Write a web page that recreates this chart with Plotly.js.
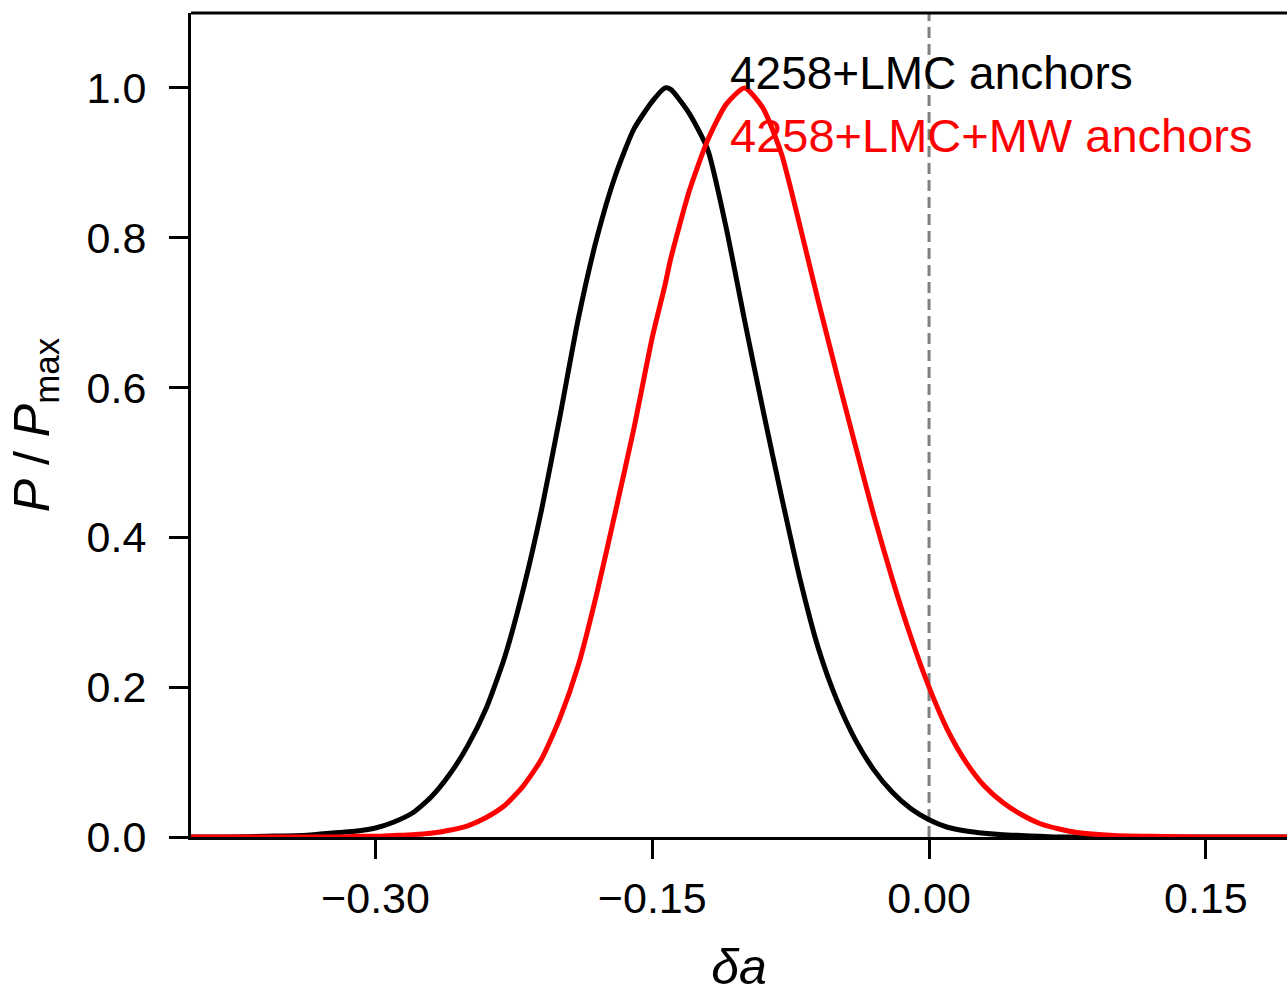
<!DOCTYPE html>
<html>
<head>
<meta charset="utf-8">
<script src="https://cdn.plot.ly/plotly-3.0.1.min.js"></script>
<style>
  html, body { margin: 0; padding: 0; background: #ffffff; overflow: hidden; }
  #chart { width: 1287px; height: 995px; }
</style>
</head>
<body>
<div id="chart"></div>
<script>
// delta a grid (x values) and normalised posteriors
const deltaA = [-0.40, -0.38, -0.36, -0.34, -0.33, -0.32, -0.31, -0.30, -0.29, -0.28,
                -0.27, -0.26, -0.25, -0.24, -0.23, -0.22, -0.21, -0.20, -0.19, -0.18,
                -0.17, -0.16, -0.15, -0.143, -0.14, -0.13, -0.12, -0.11, -0.10, -0.09,
                -0.08, -0.07, -0.06, -0.05, -0.04, -0.03, -0.02, -0.01, 0.00, 0.01,
                0.02, 0.03, 0.04, 0.05, 0.06, 0.07, 0.08, 0.10, 0.12, 0.15, 0.194];

const pLMC = [0.000, 0.000, 0.001, 0.002, 0.004, 0.006, 0.008, 0.012, 0.020, 0.032,
              0.053, 0.083, 0.122, 0.172, 0.240, 0.330, 0.437, 0.562, 0.693, 0.800,
              0.883, 0.945, 0.982, 1.000, 0.998, 0.966, 0.918, 0.814, 0.690, 0.570,
              0.455, 0.345, 0.252, 0.183, 0.130, 0.090, 0.060, 0.038, 0.023, 0.013,
              0.008, 0.005, 0.003, 0.002, 0.001, 0.000, 0.000, 0.000, 0.000, 0.000, 0.000];

const pLMCMW = [0.000, 0.000, 0.000, 0.000, 0.000, 0.000, 0.001, 0.001, 0.002, 0.003,
                0.005, 0.009, 0.015, 0.026, 0.042, 0.068, 0.104, 0.159, 0.230, 0.326,
                0.434, 0.545, 0.667, 0.738, 0.772, 0.862, 0.930, 0.978, 1.000, 0.973,
                0.912, 0.816, 0.715, 0.618, 0.523, 0.430, 0.345, 0.268, 0.200, 0.143,
                0.100, 0.068, 0.046, 0.030, 0.018, 0.011, 0.006, 0.002, 0.001, 0.000, 0.000];

const seriesNames = ["4258+LMC anchors", "4258+LMC+MW anchors"];
const seriesColors = ["#000000", "#ff0000"];
const xTicks = [-0.30, -0.15, 0.00, 0.15];
const yTicks = [0.0, 0.2, 0.4, 0.6, 0.8, 1.0];

const FONT = "'Liberation Sans', Arial, sans-serif";

const traces = [
  { x: deltaA, y: pLMC, mode: "lines", name: seriesNames[0],
    line: { color: seriesColors[0], width: 5, shape: "spline", smoothing: 0.6 }, hoverinfo: "x+y" },
  { x: deltaA, y: pLMCMW, mode: "lines", name: seriesNames[1],
    line: { color: seriesColors[1], width: 5, shape: "spline", smoothing: 0.6 }, hoverinfo: "x+y" }
];

const layout = {
  width: 1287, height: 995,
  margin: { l: 191, r: 0, t: 13, b: 158, pad: 0 },
  paper_bgcolor: "#ffffff", plot_bgcolor: "#ffffff",
  showlegend: false,
  font: { family: FONT, color: "#000000", size: 43 },
  xaxis: {
    range: [-0.40, 0.194],
    tickvals: xTicks, tickformat: ".2f",
    ticks: "outside", ticklen: 19, tickwidth: 3, tickcolor: "#000000",
    ticklabelstandoff: 2,
    showline: true, linewidth: 3, linecolor: "#000000",
    showgrid: false, zeroline: false,
    tickfont: { family: FONT, size: 43, color: "#000000" },
    title: { text: "<i>δa</i>", font: { family: FONT, size: 50, color: "#000000" }, standoff: 40 }
  },
  yaxis: {
    range: [0, 1.1],
    tickvals: yTicks, tickformat: ".1f",
    ticks: "outside", ticklen: 19, tickwidth: 3, tickcolor: "#000000",
    ticklabelstandoff: 14,
    showline: true, linewidth: 3, linecolor: "#000000",
    showgrid: false, zeroline: false,
    tickfont: { family: FONT, size: 43, color: "#000000" },
    title: { text: "<i>P</i> / <i>P</i><sub>max</sub>", font: { family: FONT, size: 50, color: "#000000" }, standoff: 22 }
  },
  shapes: [
    { type: "line", xref: "x", yref: "paper", x0: 0, x1: 0, y0: 0, y1: 1,
      line: { color: "#808080", width: 3, dash: "11px,6px" }, layer: "below" },
    { type: "line", xref: "paper", yref: "paper", x0: 0, x1: 1, y0: 1, y1: 1,
      line: { color: "#000000", width: 3 } }
  ],
  annotations: [
    { xref: "x", yref: "y", x: -0.109, y: 1.02, xanchor: "left", yanchor: "middle",
      text: seriesNames[0], showarrow: false,
      font: { family: FONT, size: 46, color: seriesColors[0] } },
    { xref: "x", yref: "y", x: -0.109, y: 0.936, xanchor: "left", yanchor: "middle",
      text: seriesNames[1], showarrow: false,
      font: { family: FONT, size: 47, color: seriesColors[1] } }
  ]
};

Plotly.newPlot("chart", traces, layout, { displayModeBar: false, staticPlot: true });
</script>
</body>
</html>
